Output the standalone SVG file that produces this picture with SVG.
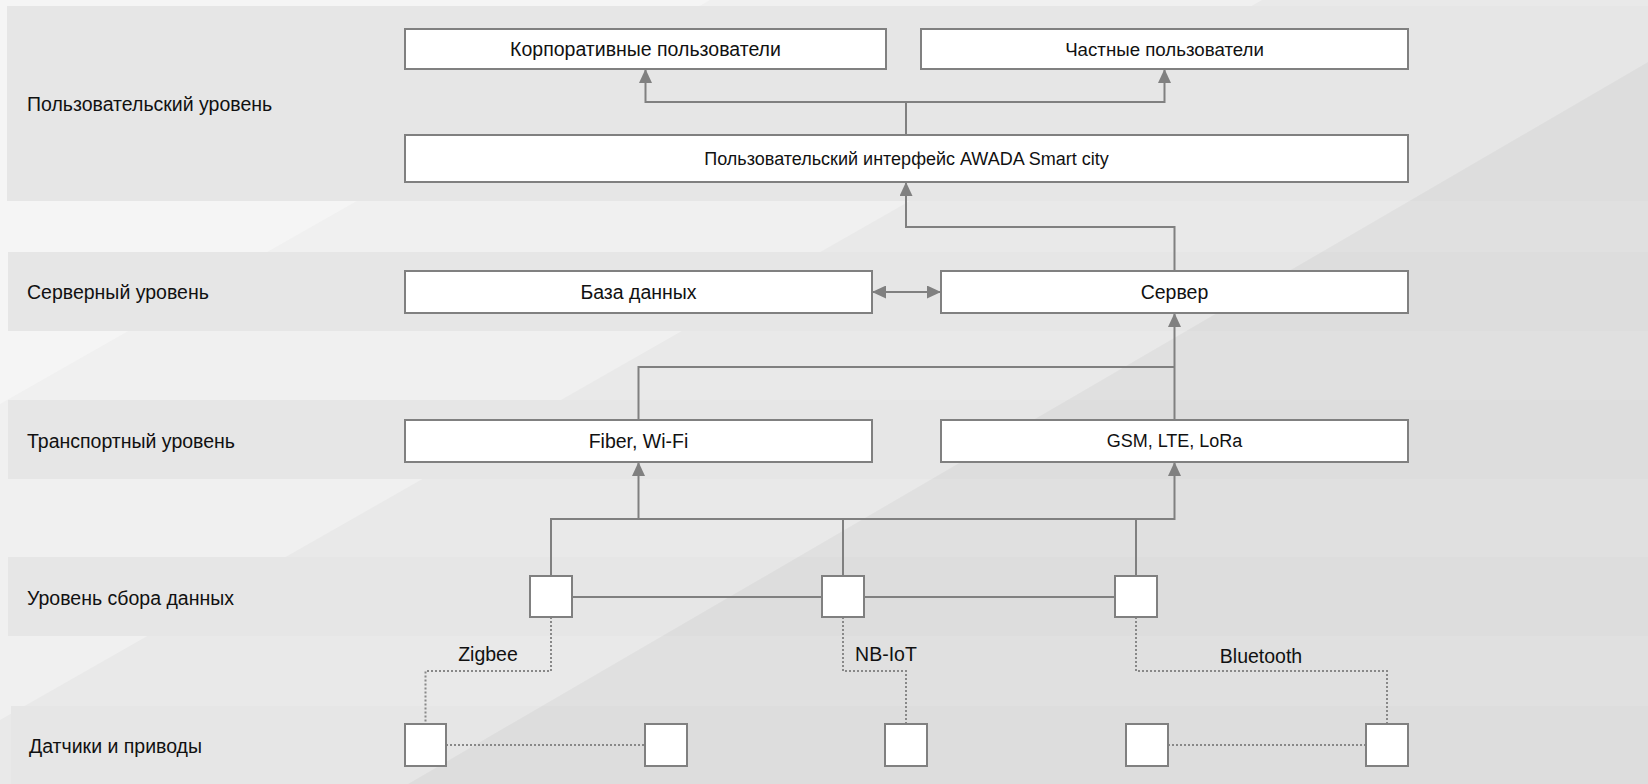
<svg xmlns="http://www.w3.org/2000/svg" width="1648" height="784" viewBox="0 0 1648 784">
<defs>
<marker id="ah" viewBox="0 0 14 13" refX="14" refY="6.5" markerWidth="14" markerHeight="13" markerUnits="userSpaceOnUse" orient="auto-start-reverse">
<path d="M0,0 L14,6.5 L0,13 Z" fill="#808080"/>
</marker>
<style>
.band{fill:#e6e6e6}
.box{fill:#ffffff;stroke:#808080;stroke-width:2}
.lbl{font-family:"Liberation Sans",Arial,sans-serif;font-size:19.5px;fill:#111111}
.t{font-family:"Liberation Sans",Arial,sans-serif;font-size:19.5px;fill:#111111;text-anchor:middle;dominant-baseline:central}
.nar{font-size:18px}
.ln{fill:none;stroke:#808080;stroke-width:2}
.dot{fill:none;stroke:#888888;stroke-width:2;stroke-dasharray:2 2}
</style>
</defs>
<g id="background">
<rect x="0" y="0" width="1648" height="784" fill="#f0f0f0"/>
<polygon points="0,0 710,0 0,404" fill="#f5f5f5"/>
<polygon points="1262,0 1648,0 1648,784 0,784 0,720" fill="#e9e9e9"/>
<rect class="band" x="7" y="6" width="1641" height="195"/>
<rect class="band" x="8" y="252" width="1640" height="79"/>
<rect class="band" x="8" y="400" width="1640" height="79"/>
<rect class="band" x="8" y="557" width="1640" height="79"/>
<rect class="band" x="11" y="706" width="1637" height="78"/>
<polygon points="1648,62 1648,784 408,784" fill="#000000" fill-opacity="0.035"/>
</g>
<g id="layer-labels">
<text class="lbl" x="27" y="104" dominant-baseline="central">Пользовательский уровень</text>
<text class="lbl" x="27" y="292" dominant-baseline="central">Серверный уровень</text>
<text class="lbl" x="27" y="441" dominant-baseline="central">Транспортный уровень</text>
<text class="lbl" x="27" y="598" dominant-baseline="central">Уровень сбора данных</text>
<text class="lbl" x="29" y="746" dominant-baseline="central">Датчики и приводы</text>
</g>
<g id="connectors">
<path class="ln" d="M906,135 V102 H645.5 V69" marker-end="url(#ah)"/>
<path class="ln" d="M906,102 H1164.5 V69" marker-end="url(#ah)"/>
<path class="ln" d="M1174.5,271 V227 H906 V182" marker-end="url(#ah)"/>
<path class="ln" d="M872,292 H941" marker-start="url(#ah)" marker-end="url(#ah)"/>
<path class="ln" d="M638.5,420 V367 H1174.5"/>
<path class="ln" d="M1174.5,420 V313" marker-end="url(#ah)"/>
<path class="ln" d="M551,576 V519 H1174.5 V462" marker-end="url(#ah)"/>
<path class="ln" d="M638.5,519 V462" marker-end="url(#ah)"/>
<path class="ln" d="M843,576 V519"/>
<path class="ln" d="M1136,576 V519"/>
<path class="ln" d="M572,597 H822"/>
<path class="ln" d="M864,597 H1115"/>
<path class="dot" d="M551,617 V671 H425.5 V724"/>
<path class="dot" d="M843,617 V671 H906 V724"/>
<path class="dot" d="M1136,617 V671 H1387 V724"/>
<path class="dot" d="M446,745 H645"/>
<path class="dot" d="M1168,745 H1366"/>
<text class="t" x="488" y="654">Zigbee</text>
<text class="t" x="886" y="654">NB-IoT</text>
<text class="t" x="1261" y="656">Bluetooth</text>
</g>
<g id="corp-users"><rect class="box" x="405" y="29" width="481" height="40"/><text class="t" x="645.5" y="49">Корпоративные пользователи</text></g>
<g id="private-users"><rect class="box" x="921" y="29" width="487" height="40"/><text class="t" x="1164.5" y="49" style="font-size:18.7px">Частные пользователи</text></g>
<g id="interface"><rect class="box" x="405" y="135" width="1003" height="47"/><text class="t nar" x="906.5" y="158.5">Пользовательский интерфейс AWADA Smart city</text></g>
<g id="database"><rect class="box" x="405" y="271" width="467" height="42"/><text class="t" x="638.5" y="292">База данных</text></g>
<g id="server"><rect class="box" x="941" y="271" width="467" height="42"/><text class="t" x="1174.5" y="292">Сервер</text></g>
<g id="fiber"><rect class="box" x="405" y="420" width="467" height="42"/><text class="t" x="638.5" y="441">Fiber, Wi-Fi</text></g>
<g id="gsm"><rect class="box" x="941" y="420" width="467" height="42"/><text class="t nar" x="1174.5" y="441">GSM, LTE, LoRa</text></g>
<g id="collector-1"><rect class="box" x="530" y="576" width="42" height="41"/></g>
<g id="collector-2"><rect class="box" x="822" y="576" width="42" height="41"/></g>
<g id="collector-3"><rect class="box" x="1115" y="576" width="42" height="41"/></g>
<g id="sensor-1"><rect class="box" x="405" y="724" width="41" height="42"/></g>
<g id="sensor-2"><rect class="box" x="645" y="724" width="42" height="42"/></g>
<g id="sensor-3"><rect class="box" x="885" y="724" width="42" height="42"/></g>
<g id="sensor-4"><rect class="box" x="1126" y="724" width="42" height="42"/></g>
<g id="sensor-5"><rect class="box" x="1366" y="724" width="42" height="42"/></g>
</svg>
